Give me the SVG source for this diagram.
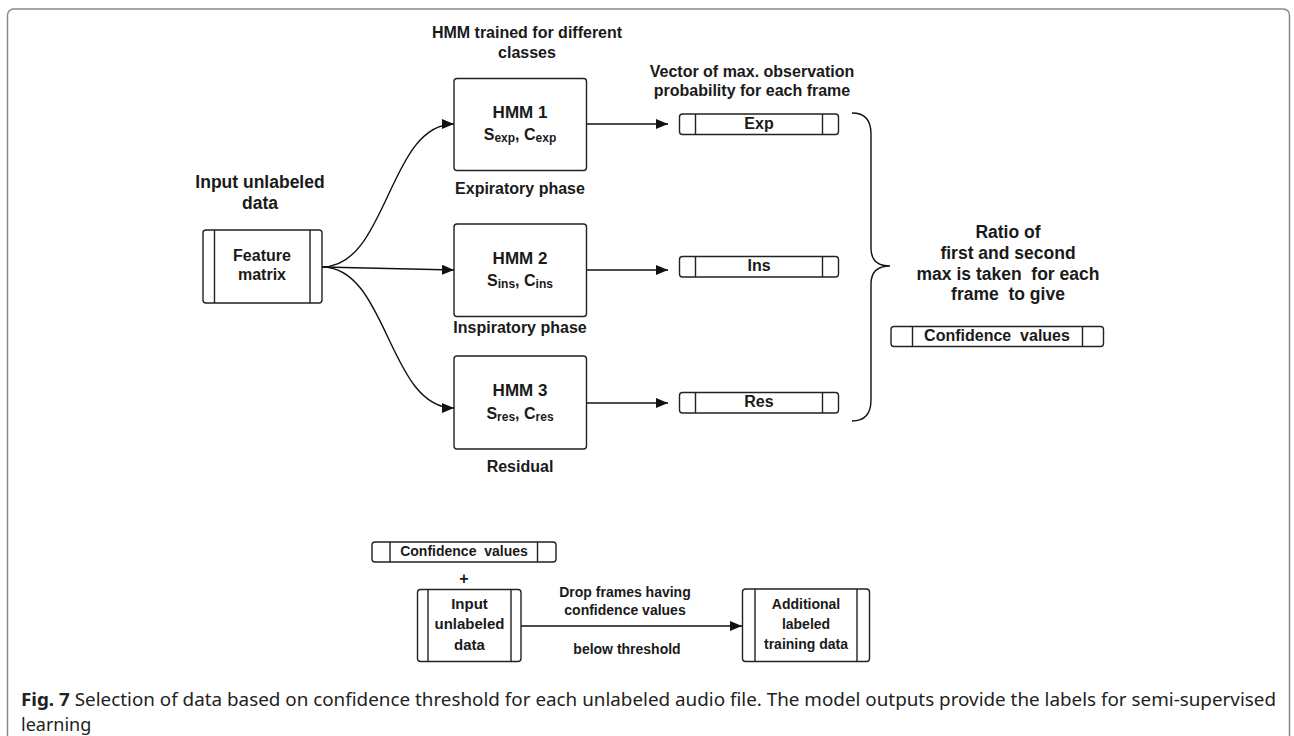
<svg xmlns="http://www.w3.org/2000/svg" width="1294" height="736" viewBox="0 0 1294 736">
<style>
text{font-family:"Liberation Sans",Arial,sans-serif;font-weight:bold;fill:#1a1a1a;text-anchor:middle;white-space:pre}
.f14{font-size:14px}.f15{font-size:15px}.f16{font-size:16px}.f17{font-size:17px}.f175{font-size:17.5px}
.box{fill:#fff;stroke:#222;stroke-width:1.4}
.ln{fill:none;stroke:#222;stroke-width:1.4}
.con{fill:none;stroke:#111;stroke-width:1.4}
.cap{font-family:"Noto Sans","Open Sans",sans-serif;font-weight:normal;font-size:18px;text-anchor:start;fill:#222}
</style>
<defs>
<marker id="arr" markerWidth="12" markerHeight="10" refX="12" refY="5" orient="auto" markerUnits="userSpaceOnUse">
<path d="M0,0 L12,5 L0,10 Z" fill="#111"/>
</marker>
</defs>
<rect x="7.5" y="9" width="1282" height="760" rx="6" fill="#fff" stroke="#888" stroke-width="1.5"/>

<g id="connectors">
<path class="con" d="M322,267 C388,267 388,124 454,124" marker-end="url(#arr)"/>
<path class="con" d="M322,267 L454,270" marker-end="url(#arr)"/>
<path class="con" d="M322,267 C388,267 388,408 454,408" marker-end="url(#arr)"/>
<path class="con" d="M587,124 L668,124" marker-end="url(#arr)"/>
<path class="con" d="M587,270 L668,270" marker-end="url(#arr)"/>
<path class="con" d="M587,403 L668,403" marker-end="url(#arr)"/>
<path class="con" d="M521,626 L742,626" marker-end="url(#arr)"/>
<path id="brace" class="con" d="M852,113 Q871,113 871,134 L871,248 Q871,266 890,266 Q871,266 871,284 L871,400 Q871,421 852,421"/>
</g>

<g id="title-hmm">
<text class="f16" x="527" y="38">HMM trained for different</text>
<text class="f16" x="527" y="57.5">classes</text>
</g>
<g id="title-input">
<text class="f175" x="260" y="188">Input unlabeled</text>
<text class="f175" x="260" y="209">data</text>
</g>
<g id="title-vector">
<text class="f16" x="752" y="76.5">Vector of max. observation</text>
<text class="f16" x="752" y="96">probability for each frame</text>
</g>

<g id="feature-matrix">
<rect class="box" x="203" y="230" width="119" height="73" rx="3"/>
<line class="ln" x1="214.5" y1="230" x2="214.5" y2="303"/>
<line class="ln" x1="310" y1="230" x2="310" y2="303"/>
<text class="f16" x="262" y="261">Feature</text>
<text class="f16" x="262" y="280">matrix</text>
</g>

<g id="hmm1">
<rect class="box" x="454" y="78.5" width="132.5" height="92" rx="3"/>
<text class="f17" x="520" y="118">HMM 1</text>
<text class="f16" x="520" y="140">S<tspan font-size="12" dy="2">exp</tspan><tspan dy="-2">, C</tspan><tspan font-size="12" dy="2">exp</tspan></text>
<text class="f16" x="520" y="194">Expiratory phase</text>
</g>
<g id="hmm2">
<rect class="box" x="454" y="224" width="132.5" height="92.5" rx="3"/>
<text class="f17" x="520" y="264">HMM 2</text>
<text class="f16" x="520" y="286">S<tspan font-size="12" dy="2">ins</tspan><tspan dy="-2">, C</tspan><tspan font-size="12" dy="2">ins</tspan></text>
<text class="f16" x="520" y="333">Inspiratory phase</text>
</g>
<g id="hmm3">
<rect class="box" x="454" y="356" width="132.5" height="93" rx="3"/>
<text class="f17" x="520" y="396">HMM 3</text>
<text class="f16" x="520" y="419">S<tspan font-size="12" dy="2">res</tspan><tspan dy="-2">, C</tspan><tspan font-size="12" dy="2">res</tspan></text>
<text class="f16" x="520" y="471.5">Residual</text>
</g>

<g id="exp">
<rect class="box" x="679.5" y="114" width="159" height="20.5" rx="3"/>
<line class="ln" x1="695.5" y1="114" x2="695.5" y2="134.5"/>
<line class="ln" x1="822.5" y1="114" x2="822.5" y2="134.5"/>
<text class="f16" x="759" y="129">Exp</text>
</g>
<g id="ins">
<rect class="box" x="679.5" y="256.5" width="159" height="20.5" rx="3"/>
<line class="ln" x1="695.5" y1="256.5" x2="695.5" y2="277"/>
<line class="ln" x1="822.5" y1="256.5" x2="822.5" y2="277"/>
<text class="f16" x="759" y="271">Ins</text>
</g>
<g id="res">
<rect class="box" x="679.5" y="392.5" width="159" height="20.5" rx="3"/>
<line class="ln" x1="695.5" y1="392.5" x2="695.5" y2="413"/>
<line class="ln" x1="822.5" y1="392.5" x2="822.5" y2="413"/>
<text class="f16" x="759" y="406.5">Res</text>
</g>

<g id="ratio">
<text class="f175" x="1008" y="238">Ratio of</text>
<text class="f175" x="1008" y="258.5">first and second</text>
<text class="f175" x="1008" y="279.5">max is taken  for each</text>
<text class="f175" x="1008" y="300">frame  to give</text>
</g>
<g id="confidence-right">
<rect class="box" x="891" y="326.5" width="212.5" height="20" rx="3"/>
<line class="ln" x1="912.5" y1="326.5" x2="912.5" y2="346.5"/>
<line class="ln" x1="1082.5" y1="326.5" x2="1082.5" y2="346.5"/>
<text class="f16" x="997" y="341">Confidence  values</text>
</g>

<g id="confidence-bottom">
<rect class="box" x="372" y="542" width="184" height="20" rx="3"/>
<line class="ln" x1="390" y1="542" x2="390" y2="562"/>
<line class="ln" x1="537.5" y1="542" x2="537.5" y2="562"/>
<text class="f14" x="464" y="556">Confidence  values</text>
<text class="f16" x="464" y="584">+</text>
</g>
<g id="input-bottom">
<rect class="box" x="417.5" y="589.5" width="103.5" height="72" rx="3"/>
<line class="ln" x1="428" y1="589.5" x2="428" y2="661.5"/>
<line class="ln" x1="511" y1="589.5" x2="511" y2="661.5"/>
<text class="f15" x="469.5" y="608.5">Input</text>
<text class="f15" x="469.5" y="629">unlabeled</text>
<text class="f15" x="469.5" y="650">data</text>
</g>
<g id="drop-label">
<text class="f14" x="625" y="596.5">Drop frames having</text>
<text class="f14" x="625" y="615">confidence values</text>
<text class="f14" x="627" y="654">below threshold</text>
</g>
<g id="additional">
<rect class="box" x="742.5" y="589" width="127" height="72.5" rx="3"/>
<line class="ln" x1="755" y1="589" x2="755" y2="661.5"/>
<line class="ln" x1="857" y1="589" x2="857" y2="661.5"/>
<text class="f14" x="806" y="609">Additional</text>
<text class="f14" x="806" y="628.5">labeled</text>
<text class="f14" x="806" y="648.5">training data</text>
</g>

<g id="caption">
<text class="cap" x="21" y="706" textLength="1255" lengthAdjust="spacingAndGlyphs"><tspan font-weight="bold">Fig. 7</tspan> Selection of data based on confidence threshold for each unlabeled audio file. The model outputs provide the labels for semi-supervised</text>
<text class="cap" x="21" y="731">learning</text>
</g>
</svg>
